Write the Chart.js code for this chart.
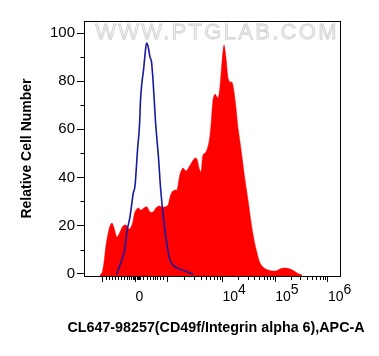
<!DOCTYPE html>
<html><head><meta charset="utf-8">
<script src="https://cdn.jsdelivr.net/npm/chart.js@4/dist/chart.umd.min.js"></script>
<style>html,body{margin:0;padding:0;background:#fff}canvas{display:block}</style>
</head><body>
<canvas id="c" width="379" height="356"></canvas>
<script>
// Positions along the biexponential axis (10^4 = 4, 10^5 = 5, 10^6 = 6)
const RED_X = [1.674,1.712,1.75,1.788,1.826,1.864,1.902,1.94,1.997,2.053,2.11,2.167,2.224,2.281,2.338,2.395,2.452,2.509,2.566,2.623,2.68,2.737,2.794,2.851,2.908,2.965,3.003,3.041,3.098,3.136,3.193,3.25,3.306,3.363,3.42,3.477,3.515,3.553,3.591,3.629,3.686,3.743,3.781,3.819,3.857,3.914,3.952,3.99,4.028,4.066,4.104,4.142,4.18,4.218,4.256,4.294,4.332,4.37,4.427,4.484,4.541,4.598,4.655,4.712,4.788,4.863,4.939,5.015,5.09,5.185,5.28,5.357,5.433,5.509];
const RED_Y = [-0.6,0.2,4.8,11.9,16.5,19.8,21.0,19.0,15.2,17.3,19.8,20.2,18.5,20.2,25.6,27.3,26.4,27.3,27.7,25.6,25.6,27.3,28.1,27.7,27.7,28.5,31.8,33.9,34.7,34.7,41.4,43.9,42.6,44.3,46.4,48.0,47.6,43.9,42.2,49.3,50.5,54.7,61.8,72.2,74.6,73.0,78.0,88.0,95.0,89.6,81.3,79.6,79.6,75.5,68.8,60.5,54.7,48.5,38.9,30.6,21.4,14.0,8.6,4.4,2.3,1.5,1.1,1.1,1.9,2.3,1.9,1.1,0,-0.6];
const BLUE_X = [1.99,2.053,2.086,2.148,2.181,2.243,2.306,2.338,2.386,2.424,2.443,2.471,2.5,2.528,2.557,2.585,2.623,2.652,2.68,2.709,2.728,2.756,2.785,2.822,2.876,2.94,3.003,3.098,3.32,3.445];
const BLUE_Y = [-0.4,3.6,5.6,10.5,16.9,23.6,33.5,36.4,51.4,61.8,72.1,79.6,84.6,90.9,95.8,94.6,90.0,87.9,80.5,70.1,63.0,55.5,48.0,36.0,23.6,12.7,5.6,2.9,0.8,-0.4];

const X_TICK_VALUES = [1.724, 2.348, 2.959, 4, 5, 6];
const X_TICK_LABELS = [['',''], ['','0'], ['',''], ['    4','10'], ['    5','10'], ['    6','10']];
const X_MINOR_TICKS = [1.788,1.845,1.902,1.959,2.016,2.072,2.129,2.186,2.224,2.262,2.3,2.319,2.376,2.395,2.414,2.433,2.49,2.566,2.623,2.68,2.718,2.756,2.813,2.87,
  3.272,3.456,3.586,3.687,3.769,3.839,3.899,3.952,
  4.301,4.477,4.602,4.699,4.778,4.845,4.903,4.954,
  5.301,5.477,5.602,5.699,5.778,5.845,5.903,5.954];
const Y_TICK_VALUES = [0, 20, 40, 60, 80, 100];
const Y_MINOR_TICKS = [10, 30, 50, 70, 90];
const X_TITLE = 'CL647-98257(CD49f/Integrin alpha 6),APC-A';
const Y_TITLE = 'Relative Cell Number';
const WATERMARK = 'WWW.PTGLAB.COM';

const FONT = '"Liberation Sans", Arial, sans-serif';
Chart.defaults.font.family = FONT;

const framePlugin = {
  id: 'frame',
  beforeDatasetsDraw(chart) {
    const {ctx, chartArea: a} = chart;
    ctx.save();
    ctx.font = '22px ' + FONT;
    if ('letterSpacing' in ctx) ctx.letterSpacing = '2.3px';
    ctx.textAlign = 'center';
    ctx.textBaseline = 'middle';
    const cx = (a.left + a.right) / 2 + 5;
    ctx.fillStyle = '#f2f2f2';
    ctx.fillText(WATERMARK, cx, 33);
    ctx.strokeStyle = '#cfcfcf';
    ctx.lineWidth = 0.8;
    ctx.strokeText(WATERMARK, cx, 33);
    ctx.restore();
  },
  afterDraw(chart) {
    const {ctx, chartArea: a, scales} = chart;
    ctx.save();
    ctx.strokeStyle = '#000';
    ctx.lineWidth = 1;
    ctx.beginPath();
    X_MINOR_TICKS.forEach(v => {
      const px = Math.round(scales.x.getPixelForValue(v)) + 0.5;
      ctx.moveTo(px, a.bottom); ctx.lineTo(px, a.bottom + 4);
    });
    Y_MINOR_TICKS.forEach(v => {
      const py = Math.round(scales.y.getPixelForValue(v)) + 0.5;
      ctx.moveTo(a.left - 3.5, py); ctx.lineTo(a.left, py);
    });
    ctx.stroke();
    ctx.strokeRect(Math.round(a.left) + 0.5, Math.round(a.top) + 0.5, Math.round(a.right - a.left), Math.round(a.bottom - a.top));
    // x-axis title (drawn here so it is not squeezed to the plot width)
    ctx.fillStyle = '#000';
    ctx.font = 'bold 14.3px ' + FONT;
    ctx.textAlign = 'center';
    ctx.textBaseline = 'middle';
    ctx.fillText(X_TITLE, (a.left + a.right) / 2 + 4, scales.x.bottom - 28);
    ctx.restore();
  }
};

new Chart(document.getElementById('c'), {
  type: 'line',
  data: {
    datasets: [
      {
        label: 'Isotype',
        data: BLUE_X.map((x, i) => ({x, y: BLUE_Y[i]})),
        borderColor: '#1a1a9c',
        borderWidth: 1.6,
        pointRadius: 0,
        fill: false,
        cubicInterpolationMode: 'monotone',
        order: 0
      },
      {
        label: 'CL647-98257',
        data: RED_X.map((x, i) => ({x, y: RED_Y[i]})),
        borderColor: '#ff0000',
        backgroundColor: '#ff0000',
        borderWidth: 0.5,
        pointRadius: 0,
        fill: 'start',
        tension: 0.3,
        order: 1
      }
    ]
  },
  options: {
    responsive: false,
    animation: false,
    devicePixelRatio: 1,
    layout: {padding: {top: 21, right: 39, left: 0, bottom: 0}},
    plugins: {legend: {display: false}, tooltip: {enabled: false}},
    scales: {
      x: {
        type: 'linear',
        min: 1.37,
        max: 6.23,
        afterBuildTicks: s => { s.ticks = X_TICK_VALUES.map(v => ({value: v})); },
        afterFit: s => { s.height = 80; },
        ticks: {
          autoSkip: false, maxRotation: 0, align: 'start', padding: 5, color: '#000',
          font: {size: 14, lineHeight: 0.5},
          callback: (v, i) => X_TICK_LABELS[i]
        },
        grid: {drawOnChartArea: false, tickLength: 6, tickColor: '#000', tickWidth: 1},
        border: {color: '#000', width: 1},
        title: {display: false, text: X_TITLE}
      },
      y: {
        min: -1,
        max: 105,
        afterBuildTicks: s => { s.ticks = Y_TICK_VALUES.map(v => ({value: v})); },
        afterFit: s => { s.width = 84; },
        ticks: {padding: 2, color: '#000', font: {size: 15}},
        grid: {drawOnChartArea: false, tickLength: 7, tickColor: '#000', tickWidth: 1},
        border: {color: '#000', width: 1},
        title: {display: true, text: Y_TITLE, color: '#000', font: {size: 14, weight: 'bold'}, padding: {top: 19, bottom: 0}}
      }
    }
  },
  plugins: [framePlugin]
});
</script>
</body></html>
